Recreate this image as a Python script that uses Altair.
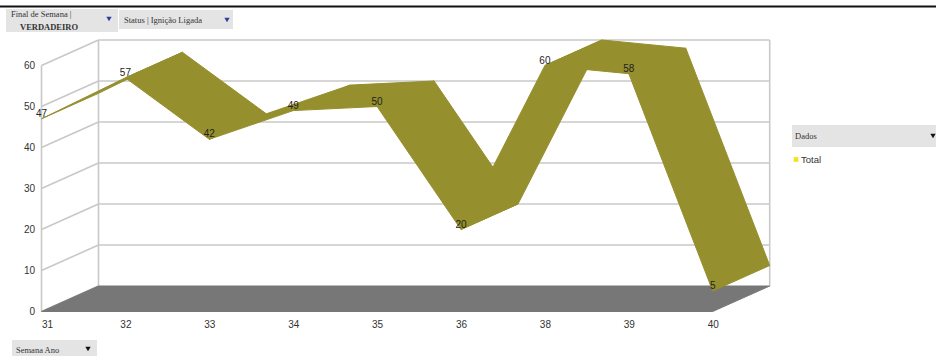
import altair as alt
import pandas as pd

# Pivot chart data: weekly totals
weeks = ["31", "32", "33", "34", "35", "36", "38", "39", "40"]
totals = [47, 57, 42, 49, 50, 20, 60, 58, 5]
y_ticks = [0, 10, 20, 30, 40, 50, 60]

# pseudo-3D geometry (in data units)
PX_X = 83.9           # pixels per category step
PX_Y = 4.1            # pixels per value unit
DX = 57 / PX_X        # depth offset along x
DY = 25.5 / PX_Y      # depth offset along y
N = len(weeks)
XMAX = (N - 1) + DX
YMAX = 60 + DY
W = XMAX * PX_X
H = YMAX * PX_Y
LEFT, TOP = 41.5, 40

OLIVE = "#968f2d"
GRID = "#c8c8c8"
TXT = "#333333"

xs = alt.Scale(domain=[0, XMAX], nice=False, zero=False)
ys = alt.Scale(domain=[0, YMAX], nice=False, zero=False)

# ribbon quads between consecutive weeks
rib = []
for i in range(N - 1):
    a, b = totals[i], totals[i + 1]
    pts = [(i, a), (i + 1, b), (i + 1 + DX, b + DY), (i + DX, a + DY), (i, a)]
    for k, (px, py) in enumerate(pts):
        rib.append({"seg": i, "k": k, "x": px, "y": py})
rib_df = pd.DataFrame(rib)

# floor parallelogram
floor_df = pd.DataFrame({
    "k": [0, 1, 2, 3, 4],
    "x": [0, N - 1, N - 1 + DX, DX, 0],
    "y": [0, 0, DY, DY, 0],
})

# wall lines: back gridlines, side-wall slants and edges
segs = []
for v in y_ticks[1:]:
    segs.append({"x": DX, "y": v + DY, "x2": N - 1 + DX, "y2": v + DY})
for v in y_ticks:
    segs.append({"x": 0, "y": v, "x2": DX, "y2": v + DY})
segs.append({"x": 0, "y": 0, "x2": 0, "y2": 60})
segs.append({"x": DX, "y": DY, "x2": DX, "y2": 60 + DY})
segs.append({"x": N - 1 + DX, "y": DY, "x2": N - 1 + DX, "y2": 60 + DY})
seg_df = pd.DataFrame(segs)

pts_df = pd.DataFrame({"i": list(range(N)), "week": weeks, "total": totals})

label_expr = "[" + ",".join(f"'{w}'" for w in weeks) + "][datum.value]"

walls = alt.Chart(seg_df).mark_rule(color=GRID, strokeWidth=1.6).encode(
    x=alt.X("x:Q", scale=xs, axis=alt.Axis(
        values=list(range(N)), labelExpr=label_expr, title=None, domain=False,
        ticks=False, grid=False, labelPadding=8, labelFontSize=10,
        labelColor=TXT, labelFont="Liberation Sans")),
    y=alt.Y("y:Q", scale=ys, axis=alt.Axis(
        values=y_ticks, title=None, domain=False, ticks=False, grid=False,
        labelPadding=7, labelFontSize=10, labelColor=TXT,
        labelFont="Liberation Sans")),
    x2="x2:Q", y2="y2:Q",
)

floor = alt.Chart(floor_df).mark_line(
    fill="#777777", stroke="#777777", strokeWidth=1, interpolate="linear"
).encode(x=alt.X("x:Q", scale=xs), y=alt.Y("y:Q", scale=ys), order="k:Q")

ribbon = alt.Chart(rib_df).mark_line(
    fill=OLIVE, stroke=OLIVE, strokeWidth=1, interpolate="linear"
).encode(
    x=alt.X("x:Q", scale=xs), y=alt.Y("y:Q", scale=ys),
    detail="seg:N", order="k:Q",
)

labels = alt.Chart(pts_df).mark_text(
    dy=-5, fontSize=10, color="#222222", font="Liberation Sans", baseline="middle"
).encode(x=alt.X("i:Q", scale=xs), y=alt.Y("total:Q", scale=ys), text="total:Q")

# top page rule
page_rule = alt.Chart(pts_df.head(1)).mark_rule(color="#111111", strokeWidth=2).encode(
    x=alt.value(0 - LEFT), x2=alt.value(936 - LEFT), y=alt.value(6.5 - TOP))

# field buttons of the pivot chart
buttons = pd.DataFrame([
    {"x": 6, "x2": 118, "y": 9, "y2": 32},
    {"x": 119, "x2": 233, "y": 10, "y2": 29},
    {"x": 12, "x2": 97, "y": 340, "y2": 358},
    {"x": 792, "x2": 940, "y": 125, "y2": 147},
])
buttons[["x", "x2"]] -= LEFT
buttons[["y", "y2"]] -= TOP
btn = alt.Chart(buttons).mark_rect(color="#e4e4e4").encode(
    x=alt.X("x:Q", scale=None), x2="x2:Q",
    y=alt.Y("y:Q", scale=None), y2="y2:Q")

btn_text = pd.DataFrame([
    {"x": 11, "y": 14, "t": "Final de Semana |", "w": "normal"},
    {"x": 20, "y": 27, "t": "VERDADEIRO", "w": "bold"},
    {"x": 124, "y": 20, "t": "Status | Ignição Ligada", "w": "normal"},
    {"x": 16, "y": 350, "t": "Semana Ano", "w": "normal"},
    {"x": 795, "y": 136, "t": "Dados", "w": "normal"},
])
btn_text["x"] -= LEFT
btn_text["y"] -= TOP


def button_text(weight):
    return alt.Chart(btn_text[btn_text["w"] == weight]).mark_text(
        align="left", baseline="middle", fontSize=8.5, font="Liberation Serif",
        color=TXT, fontWeight=weight
    ).encode(x=alt.X("x:Q", scale=None), y=alt.Y("y:Q", scale=None), text="t:N")


arrows = pd.DataFrame([
    {"x": 109, "y": 19, "c": "#2a3fa0"},
    {"x": 227, "y": 20, "c": "#2a3fa0"},
    {"x": 88, "y": 349, "c": "#111111"},
    {"x": 933, "y": 136, "c": "#111111"},
])
arrows["x"] -= LEFT
arrows["y"] -= TOP
arrow_marks = alt.Chart(arrows).mark_point(
    shape="triangle-down", filled=True, size=28, opacity=1
).encode(x=alt.X("x:Q", scale=None), y=alt.Y("y:Q", scale=None),
         color=alt.Color("c:N", scale=None))

# legend entry
legend_sw = alt.Chart(pts_df.head(1)).mark_square(
    color="#f5e11c", size=22, opacity=1
).encode(x=alt.value(796 - LEFT), y=alt.value(159.5 - TOP))
legend_txt = alt.Chart(pts_df.head(1)).mark_text(
    text="Total", align="left", baseline="middle", fontSize=9.5,
    font="Liberation Sans", color=TXT
).encode(x=alt.value(801 - LEFT), y=alt.value(159.5 - TOP))

chart = alt.layer(
    walls, floor, ribbon, labels, page_rule, btn,
    button_text("normal"), button_text("bold"), arrow_marks,
    legend_sw, legend_txt
).properties(
    width=W, height=H,
    background="white",
    autosize=alt.AutoSizeParams(type="none"),
    padding={"left": LEFT, "top": TOP, "right": 936 - LEFT - W, "bottom": 356 - TOP - H},
).configure_view(stroke=None)

chart.save("out.html", embed_options={"renderer": "svg", "actions": False})
